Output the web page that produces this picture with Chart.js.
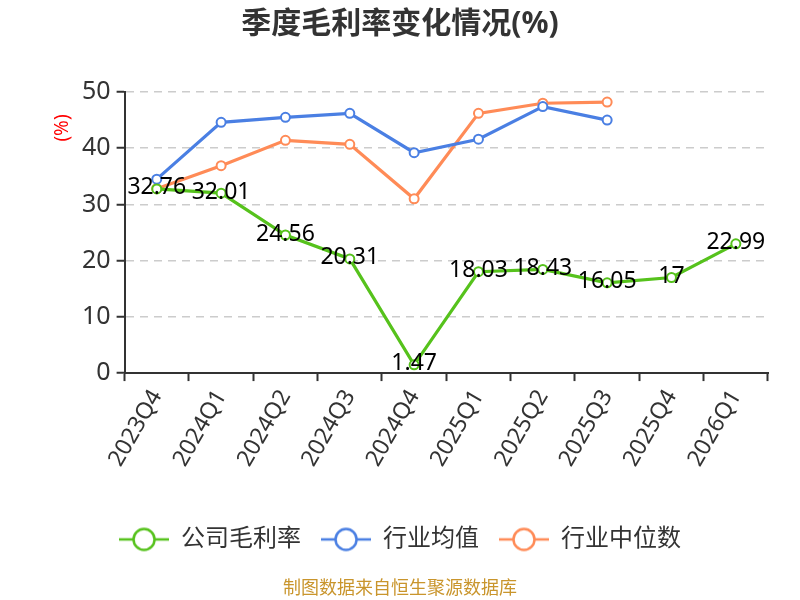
<!DOCTYPE html>
<html lang="zh">
<head>
<meta charset="UTF-8">
<title>季度毛利率变化情况(%)</title>
<script src="https://cdn.jsdelivr.net/npm/chart.js"></script>
<style>
  html, body { margin: 0; padding: 0; background: #fff; }
  .container { width: 800px; height: 600px; }
</style>
<script>
// 数据
const quarters = ['2023Q4', '2024Q1', '2024Q2', '2024Q3', '2024Q4', '2025Q1', '2025Q2', '2025Q3', '2025Q4', '2026Q1'];
const companyMargin = [32.76, 32.01, 24.56, 20.31, 1.47, 18.03, 18.43, 16.05, 17, 22.99];
const industryAvg = [34.5, 44.6, 45.5, 46.2, 39.2, 41.6, 47.4, 45.0, null, null];
const industryMedian = [32.8, 36.9, 41.4, 40.7, 31.0, 46.2, 48.0, 48.2, null, null];
const seriesNames = ['公司毛利率', '行业均值', '行业中位数'];
const yTicks = [0, 10, 20, 30, 40, 50];
</script>
</head>
<body>
<div class="container">
  <canvas id="myChart" width="800" height="600"></canvas>
</div>
<script>
    const FONT = "'Noto Sans', 'Noto Sans CJK SC', sans-serif";
    const colors = ['#56c21c', '#4a7fe3', '#ff8b57'];

    // 图例图标: 线 + 空心圆
    function makeIcon(color) {
        let c = document.createElement('canvas');
        c.width = 50;
        c.height = 26;
        let g = c.getContext('2d');
        g.strokeStyle = color;
        g.lineWidth = 2.5;
        g.beginPath();
        g.moveTo(0, 13);
        g.lineTo(50, 13);
        g.stroke();
        g.beginPath();
        g.arc(25, 13, 10.5, 0, Math.PI * 2);
        g.fillStyle = '#fff';
        g.fill();
        g.stroke();
        return c;
    }
    const icons = colors.map(makeIcon);

    // 公司毛利率 数值标签
    const valueLabels = {
        id: 'valueLabels',
        afterDatasetsDraw(chart) {
            const meta = chart.getDatasetMeta(0);
            const ctx = chart.ctx;
            ctx.save();
            ctx.font = '23px ' + FONT;
            ctx.fillStyle = '#000';
            ctx.textAlign = 'center';
            ctx.textBaseline = 'middle';
            meta.data.forEach(function (pt, i) {
                ctx.fillText(String(companyMargin[i]), pt.x, pt.y - 1);
            });
            ctx.restore();
        }
    };

    // y轴单位 (%)
    const unitLabel = {
        id: 'unitLabel',
        afterDraw(chart) {
            const ctx = chart.ctx;
            const area = chart.chartArea;
            ctx.save();
            ctx.translate(area.left - 62, area.top + 36);
            ctx.rotate(-Math.PI / 2);
            ctx.font = '19px ' + FONT;
            ctx.fillStyle = '#ff0000';
            ctx.textAlign = 'center';
            ctx.textBaseline = 'middle';
            ctx.fillText('(%)', 0, 0);
            ctx.restore();
        }
    };

    function lineSet(label, data, color) {
        return {
            label: label,
            data: data,
            borderColor: color,
            backgroundColor: '#fff',
            borderWidth: 3.2,
            pointRadius: 4.5,
            pointHoverRadius: 4.5,
            pointBorderWidth: 2,
            pointBackgroundColor: '#fff',
            pointBorderColor: color,
            tension: 0,
            spanGaps: false
        };
    }

    const ctx = document.getElementById('myChart');
    let config = {
        type: 'line',
        data: {
            labels: quarters,
            datasets: [
                lineSet(seriesNames[0], companyMargin, colors[0]),
                lineSet(seriesNames[1], industryAvg, colors[1]),
                lineSet(seriesNames[2], industryMedian, colors[2])
            ]
        },
        options: {
            responsive: false,
            animation: false,
            layout: { padding: 0 },
            scales: {
                x: {
                    offset: true,
                    afterFit(scale) {
                        scale.height += 32;
                    },
                    grid: {
                        offset: true,
                        drawOnChartArea: false,
                        tickLength: 8,
                        tickColor: '#333',
                        tickWidth: 2
                    },
                    border: { color: '#333', width: 2 },
                    ticks: {
                        color: '#333',
                        font: { family: FONT, size: 23 },
                        minRotation: 60,
                        maxRotation: 60,
                        padding: 4
                    }
                },
                y: {
                    min: 0,
                    max: 50,
                    afterFit(scale) {
                        scale.width += 76;
                    },
                    afterBuildTicks(scale) {
                        scale.ticks = yTicks.map(v => ({ value: v }));
                    },
                    grid: {
                        color: '#cccccc',
                        lineWidth: 1.5,
                        tickLength: 8,
                        tickColor: '#333',
                        tickWidth: 2,
                        tickBorderDash: []
                    },
                    border: { color: '#333', width: 2, dash: [8, 6] },
                    ticks: {
                        color: '#333',
                        font: { family: FONT, size: 25 },
                        padding: 6
                    }
                },
                // 右侧留白
                yRight: {
                    position: 'right',
                    display: true,
                    afterFit(scale) {
                        scale.width = 32;
                    },
                    grid: { display: false },
                    border: { display: false },
                    ticks: { display: false }
                }
            },
            plugins: {
                title: {
                    display: true,
                    text: '季度毛利率变化情况(%)',
                    color: '#333',
                    font: { family: FONT, size: 30, weight: 'bold' },
                    padding: { top: 6, bottom: 50 }
                },
                subtitle: {
                    display: true,
                    position: 'bottom',
                    text: '制图数据来自恒生聚源数据库',
                    color: '#c9952c',
                    font: { family: FONT, size: 18 },
                    padding: { top: 17, bottom: 0 }
                },
                legend: {
                    position: 'bottom',
                    labels: {
                        color: '#333',
                        font: { family: FONT, size: 24 },
                        usePointStyle: true,
                        pointStyleWidth: 50,
                        padding: 20,
                        generateLabels(chart) {
                            let items = Chart.defaults.plugins.legend.labels.generateLabels(chart);
                            items.forEach(function (it, i) { it.pointStyle = icons[i]; });
                            return items;
                        }
                    },
                    onClick: null
                },
                tooltip: { enabled: false }
            }
        },
        plugins: [valueLabels, unitLabel]
    };
    let myChart = new Chart(ctx, config);
</script>
</body>
</html>
